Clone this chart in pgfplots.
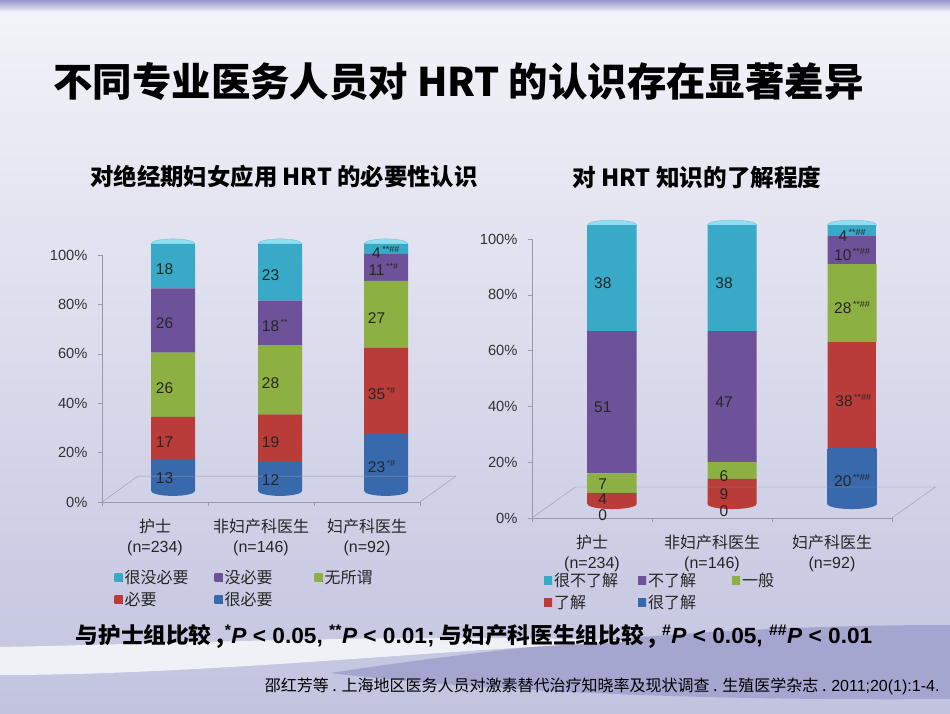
\documentclass[border=0pt]{standalone}
\usepackage{pgfplots}
\pgfplotsset{compat=1.18}
\usepackage{fontspec}
\setmainfont{Noto Sans CJK SC}
\newfontfamily\lat{Liberation Sans}

\definecolor{cyD}{HTML}{38A9C6}\definecolor{cyL}{HTML}{72D4EA}\definecolor{cyC}{HTML}{8EDFF0}
\definecolor{puD}{HTML}{6E5299}\definecolor{puL}{HTML}{9F86C8}
\definecolor{grD}{HTML}{8DB043}\definecolor{grL}{HTML}{C0DD80}
\definecolor{reD}{HTML}{B93C39}\definecolor{reL}{HTML}{E47671}
\definecolor{blD}{HTML}{3869AC}\definecolor{blL}{HTML}{72A5DE}
\definecolor{axgray}{HTML}{9A9AA6}
\definecolor{bgTop}{HTML}{F3F3F9}\definecolor{bgMid}{HTML}{CFD0E7}\definecolor{bgBot}{HTML}{C2C3DF}

\pgfplotsset{
  sqlegend/.style={legend image code/.code={\fill[##1] (0pt,-4pt) rectangle (8pt,4pt);}},
  cyl/.style 2 args={draw=none, left color=#1, middle color=#2, right color=#1, sqlegend},
  lab/.style={only marks, mark=none, nodes near coords, point meta=explicit symbolic,
    every node near coord/.append style={anchor=center, inner sep=0.5pt, font=\lat\fontsize{15.5}{16}\selectfont, text=black!85}},
  base/.style={scale only axis, xmin=0, xmax=3, ymin=0, ymax=100, clip=false},
  frame/.style={axis x line*=bottom, axis y line*=left, axis line style={draw=axgray, -},
    tick align=outside, major tick length=4pt, tick style={axgray, thin},
    xtick={0,1,2,3}, xticklabels={,,,},
    extra x ticks={0.5,1.5,2.5},
    extra x tick style={major tick length=0pt, tick label style={yshift=-14pt}},
    xticklabel style={align=center, font=\fontsize{16}{20}\selectfont, text=black!85},
    ytick={0,20,...,100}, yticklabel={\pgfmathprintnumber{\tick}\%},
    yticklabel style={font=\lat\fontsize{14.7}{16}\selectfont, text=black!80, xshift=-7pt},
    /pgf/number format/assume math mode=true,
    legend columns=3, reverse legend,
    legend style={draw=none, fill=none, anchor=north west, font=\fontsize{16}{18}\selectfont,
      row sep=3pt, text=black!85}, legend cell align=left},
}
\newcommand\supm[1]{\rlap{\hspace{1.5pt}\raisebox{6pt}{\fontsize{9}{9}\selectfont #1}}}

\begin{document}
\begin{tikzpicture}
% background
\shade[top color=bgTop, middle color=bgMid, bottom color=bgBot] (0pt,0pt) rectangle (950pt,713pt);
\shade[top color={rgb,255:red,150;green,150;blue,204}, bottom color=bgTop] (0pt,701pt) rectangle (950pt,713pt);
\fill[color={rgb,255:red,160;green,161;blue,206}, opacity=0.85]
  (330pt,40pt) .. controls (560pt,75pt) and (760pt,88pt) .. (950pt,88pt) -- (950pt,14pt)
  .. controls (700pt,12pt) and (480pt,22pt) .. (330pt,40pt) -- cycle;
\fill[white, opacity=0.75]
  (0pt,66pt) .. controls (200pt,70pt) and (420pt,80pt) .. (640pt,72pt)
  .. controls (420pt,62pt) and (200pt,38pt) .. (0pt,38pt) -- cycle;

% ---------------- chart 1 ----------------
\begin{axis}[base, frame, at={(102pt,211pt)}, anchor=south west, width=318pt, height=247pt,
  ybar stacked, bar width=44pt,
  extra x tick labels={{护士\\\lat(n=234)},{非妇产科医生\\\lat(n=146)},{妇产科医生\\\lat(n=92)}},
  legend style={at={(0.03,-0.26)}}]
\draw[axgray] (axis cs:0,0) -- (axis cs:0.34,10.5) -- (axis cs:3.34,10.5) -- (axis cs:3,0);
\addplot[forget plot, draw=none, fill=none] coordinates {(0.67,4.5) (1.68,4.5) (2.68,4.5)};
\addplot[cyl={blD}{blL}] coordinates {(0.67,13) (1.68,12) (2.68,23)};
\addlegendentry{\makebox[88pt][l]{很必要}}
\addplot[cyl={reD}{reL}] coordinates {(0.67,17) (1.68,19) (2.68,35)};
\addlegendentry{\makebox[88pt][l]{必要}}
\addplot[cyl={grD}{grL}] coordinates {(0.67,26) (1.68,28) (2.68,27)};
\addlegendentry{\makebox[88pt][l]{无所谓}}
\addplot[cyl={puD}{puL}] coordinates {(0.67,26) (1.68,18) (2.68,11)};
\addlegendentry{\makebox[88pt][l]{没必要}}
\addplot[cyl={cyD}{cyL}] coordinates {(0.67,18) (1.68,23) (2.68,4)};
\addlegendentry{\makebox[88pt][l]{很没必要}}
\shade[left color=blD, middle color=blL, right color=blD] (axis cs:0.67,4.5) ellipse [x radius=22pt, y radius=5pt];
\shade[left color=blD, middle color=blL, right color=blD] (axis cs:1.68,4.5) ellipse [x radius=22pt, y radius=5pt];
\shade[left color=blD, middle color=blL, right color=blD] (axis cs:2.68,4.5) ellipse [x radius=22pt, y radius=5pt];
\fill[cyC, draw=cyD!70, thin] (axis cs:0.67,104.5) ellipse [x radius=22pt, y radius=5pt];
\fill[cyC, draw=cyD!70, thin] (axis cs:1.68,104.5) ellipse [x radius=22pt, y radius=5pt];
\fill[cyC, draw=cyD!70, thin] (axis cs:2.68,104.5) ellipse [x radius=22pt, y radius=5pt];
\end{axis}
\begin{axis}[base, hide axis, at={(102pt,211pt)}, anchor=south west, width=318pt, height=247pt]
\addplot[lab] coordinates {
 (0.59,9.7)[13] (0.59,24.3)[17] (0.59,46.2)[26] (0.59,72.5)[26] (0.59,94.3)[18]
 (1.59,8.9)[12] (1.59,24.3)[19] (1.59,48.2)[28] (1.59,71.3)[18\supm{**}] (1.59,91.9)[23]
 (2.59,14.2)[23\supm{*\#}] (2.59,44.1)[35\supm{*\#}] (2.59,74.5)[27] (2.59,94.0)[11\supm{**\#}] (2.59,101.2)[4\supm{**\#\#}]
};
\end{axis}

% ---------------- chart 2 ----------------
\begin{axis}[base, frame, at={(532pt,195pt)}, anchor=south west, width=360pt, height=279pt,
  ybar stacked, bar width=49pt,
  extra x tick labels={{护士\\\lat(n=234)},{非妇产科医生\\\lat(n=146)},{妇产科医生\\\lat(n=92)}},
  legend style={at={(0.025,-0.183)}}]
\draw[axgray] (axis cs:0,0) -- (axis cs:0.36,11.1) -- (axis cs:3.36,11.1) -- (axis cs:3,0);
\addplot[forget plot, draw=none, fill=none] coordinates {(0.667,5) (1.667,5) (2.667,5)};
\addplot[cyl={blD}{blL}] coordinates {(0.667,0) (1.667,0) (2.667,20)};
\addlegendentry{\makebox[82pt][l]{很了解}}
\addplot[cyl={reD}{reL}] coordinates {(0.667,4) (1.667,9) (2.667,38)};
\addlegendentry{\makebox[82pt][l]{了解}}
\addplot[cyl={grD}{grL}] coordinates {(0.667,7) (1.667,6) (2.667,28)};
\addlegendentry{\makebox[82pt][l]{一般}}
\addplot[cyl={puD}{puL}] coordinates {(0.667,51) (1.667,47) (2.667,10)};
\addlegendentry{\makebox[82pt][l]{不了解}}
\addplot[cyl={cyD}{cyL}] coordinates {(0.667,38) (1.667,38) (2.667,4)};
\addlegendentry{\makebox[82pt][l]{很不了解}}
\shade[left color=reD, middle color=reL, right color=reD] (axis cs:0.667,5) ellipse [x radius=24.5pt, y radius=5pt];
\shade[left color=reD, middle color=reL, right color=reD] (axis cs:1.667,5) ellipse [x radius=24.5pt, y radius=5pt];
\shade[left color=blD, middle color=blL, right color=blD] (axis cs:2.667,5) ellipse [x radius=24.5pt, y radius=5pt];
\fill[cyC, draw=cyD!70, thin] (axis cs:0.667,105) ellipse [x radius=24.5pt, y radius=5pt];
\fill[cyC, draw=cyD!70, thin] (axis cs:1.667,105) ellipse [x radius=24.5pt, y radius=5pt];
\fill[cyC, draw=cyD!70, thin] (axis cs:2.667,105) ellipse [x radius=24.5pt, y radius=5pt];
\end{axis}
\begin{axis}[base, hide axis, at={(532pt,195pt)}, anchor=south west, width=360pt, height=279pt]
\addplot[lab] coordinates {
 (0.59,0.9)[0] (0.59,6.8)[4] (0.59,12.0)[7] (0.59,39.8)[51] (0.59,84.2)[38]
 (1.6,2.6)[0] (1.6,8.6)[9] (1.6,15.1)[6] (1.6,41.6)[47] (1.6,84.2)[38]
 (2.59,13.6)[20\supm{**\#\#}] (2.6,42.3)[38\supm{**\#\#}] (2.59,75.3)[28\supm{**\#\#}] (2.59,94.3)[10\supm{**\#\#}] (2.59,101.4)[4\supm{**\#\#}]
};
\end{axis}

% ---------------- texts ----------------
\node[anchor=west, font=\bfseries\fontsize{39.4}{41}\selectfont] at (50pt,631pt) {不同专业医务人员对 HRT 的认识存在显著差异};
\node[font=\bfseries\fontsize{23.4}{26}\selectfont] at (284pt,536pt) {对绝经期妇女应用 HRT 的必要性认识};
\node[font=\bfseries\fontsize{23.6}{26}\selectfont] at (697pt,536pt) {对 HRT 知识的了解程度};
\node[font=\bfseries\fontsize{22}{24}\selectfont] at (474pt,77pt)
  {\scalebox{1.03}[1]{与护士组比较 ,{\lat\textsuperscript{*}\textit{P} < 0.05, \textsuperscript{**}\textit{P} < 0.01;} 与妇产科医生组比较 , {\lat\textsuperscript{\#}\textit{P} < 0.05, \textsuperscript{\#\#}\textit{P} < 0.01}}};
\node[anchor=east, font=\fontsize{16}{18}\selectfont] at (943pt,27pt)
  {邵红芳等 . 上海地区医务人员对激素替代治疗知晓率及现状调查 . 生殖医学杂志 . {\lat 2011;20(1):1-4.}};
\pgfresetboundingbox
\useasboundingbox (0pt,0pt) rectangle (950pt,713pt);
\end{tikzpicture}
\end{document}
